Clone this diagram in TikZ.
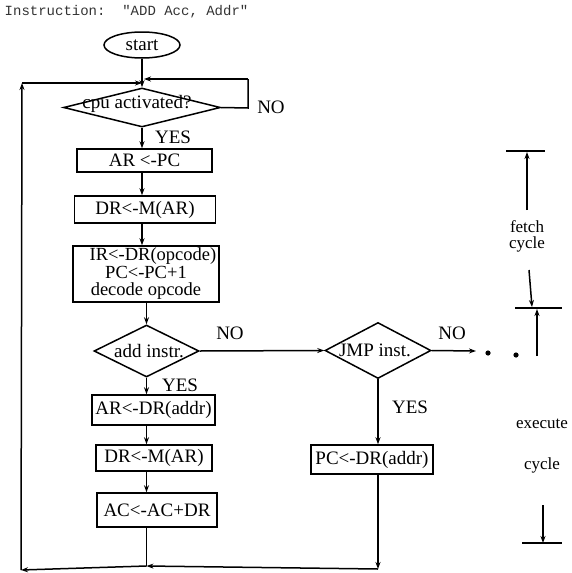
\documentclass[tikz,border=0pt]{standalone}
\usepackage{fontspec}
\setmainfont{Liberation Serif}
\newfontfamily\monof{Liberation Mono}
\usetikzlibrary{shapes.geometric,arrows.meta}
\begin{document}
\begin{tikzpicture}[x=1pt,y=-1pt,
  line width=1.5pt,
  arr/.style={-{Stealth[length=7pt,width=5pt]}},
  txt/.style={font=\fontsize{19}{19}\selectfont, inner sep=0pt},
  boxn/.style={draw, rectangle, inner sep=0pt, font=\fontsize{19}{19}\selectfont},
  dmd/.style={draw, diamond, inner sep=0pt},
  side/.style={font=\fontsize{17}{17}\selectfont, inner sep=0pt}]
\useasboundingbox (0,0) rectangle (571,573);
% title
\node[anchor=west, inner sep=0pt, font=\monof\fontsize{14}{14}\selectfont, text=black!80] (title) at (4,12) {Instruction:\ \ "ADD Acc, Addr"};
% nodes
\node[draw, ellipse, minimum width=76pt, minimum height=26pt, inner sep=0pt, txt] (start) at (142,45) {start};
\node[dmd, minimum width=157pt, minimum height=39pt] (cpu) at (142,107.5) {};
\node[txt] (cputxt) at (137,104) {cpu activated?};
\node[boxn, minimum width=135pt, minimum height=23pt] (ar1) at (144.5,160.5) {AR <-PC};
\node[boxn, minimum width=141pt, minimum height=27pt] (dr1) at (145,209.5) {DR<-M(AR)};
\node[boxn, minimum width=146pt, minimum height=56pt, align=center, font=\fontsize{18.5}{17.5}\selectfont] (ir) at (146,274) {\hspace*{14pt}IR<-DR(opcode)\\PC<-PC+1\\decode opcode};
\node[dmd, minimum width=105pt, minimum height=52pt] (add) at (146.5,351) {};
\node[txt] (addtxt) at (149,351) {add instr.};
\node[dmd, minimum width=106pt, minimum height=56pt] (jmp) at (378,350.5) {};
\node[txt] (jmptxt) at (375,350) {JMP inst.};
\node[boxn, minimum width=123pt, minimum height=30pt] (ar2) at (153.5,410) {AR<-DR(addr)};
\node[boxn, minimum width=116pt, minimum height=26pt] (dr2) at (154,458) {DR<-M(AR)};
\node[boxn, minimum width=120pt, minimum height=34pt] (ac) at (157,510) {AC<-AC+DR};
\node[boxn, minimum width=122pt, minimum height=29pt] (pc) at (372,459.5) {PC<-DR(addr)};
% labels
\node[txt] (no1) at (271,107) {NO};
\node[txt] (yes1) at (173,137) {YES};
\node[txt] (no2) at (230,333) {NO};
\node[txt] (no3) at (452,333) {NO};
\node[txt] (yes2) at (180,385) {YES};
\node[txt] (yes3) at (410,407) {YES};
% coordinates
\coordinate (ti) at (142,83);
\coordinate (tl) at (22,83);
\coordinate (bl) at (21,570);
\coordinate (m1) at (146.5,566);
\coordinate (pcb) at (378,569);
\coordinate (nr) at (248,108);
\coordinate (nt) at (248,79);
\coordinate (ni) at (144,79);
\coordinate (jn) at (476,351);
% connectors
\draw[arr] (start) -- (cpu.north);
\draw (cpu.east) -- (nr) -- (nt);
\draw[arr] (nt) -- (ni);
\draw[arr] (cpu.south) -- (cpu.south |- ar1.north);
\draw[arr] (ar1.south -| cpu.south) -- (dr1.north -| cpu.south);
\draw[arr] (dr1.south -| cpu.south) -- (ir.north -| cpu.south);
\draw[arr] (ir.south -| add.north) -- (add.north);
\draw[arr] (add.east) -- (jmp.west);
\draw[arr] (jmp.east) -- (jn);
\draw[arr] (add.south) -- (ar2.north -| add.south);
\draw[arr] (ar2.south -| add.south) -- (dr2.north -| add.south);
\draw[arr] (dr2.south -| add.south) -- (ac.north -| add.south);
\draw (ac.south -| m1) -- (m1);
\draw[arr] (jmp.south) -- (pc.north -| jmp.south);
\draw[arr] (pc.south -| jmp.south) -- (pcb);
\draw[arr] (pcb) -- (m1);
\draw[arr] (m1) -- (bl);
\draw[arr] (bl) -- (tl);
\draw[arr] (tl) -- (ti);
% dots
\fill (488,353) circle (2.6pt) coordinate (d1);
\fill (516,355) circle (2.6pt) coordinate (d2);
% cycle annotation
\coordinate (fa) at (506,151);
\coordinate (fb) at (545,151);
\draw (fa) -- (fb);
\coordinate (f1) at (527,210);
\coordinate (f2) at (527,152);
\draw[arr] (f1) -- (f2);
\node[side, align=center, font=\fontsize{17}{16}\selectfont] (fetch) at (527,236) {fetch\\cycle};
\coordinate (g1) at (529,270);
\coordinate (g2) at (532,307);
\draw[arr] (g1) -- (g2);
\coordinate (ha) at (515,308);
\coordinate (hb) at (562,308);
\draw (ha) -- (hb);
\coordinate (e1) at (537,356);
\coordinate (e2) at (537,309);
\draw[arr] (e1) -- (e2);
\node[side] (exec) at (542,424) {execute};
\node[side] (cyc) at (542,465) {cycle};
\coordinate (k1) at (543,505);
\coordinate (k2) at (543,543);
\draw[arr] (k1) -- (k2);
\coordinate (ka) at (522,543);
\coordinate (kb) at (562,543);
\draw (ka) -- (kb);
\end{tikzpicture}
\end{document}
